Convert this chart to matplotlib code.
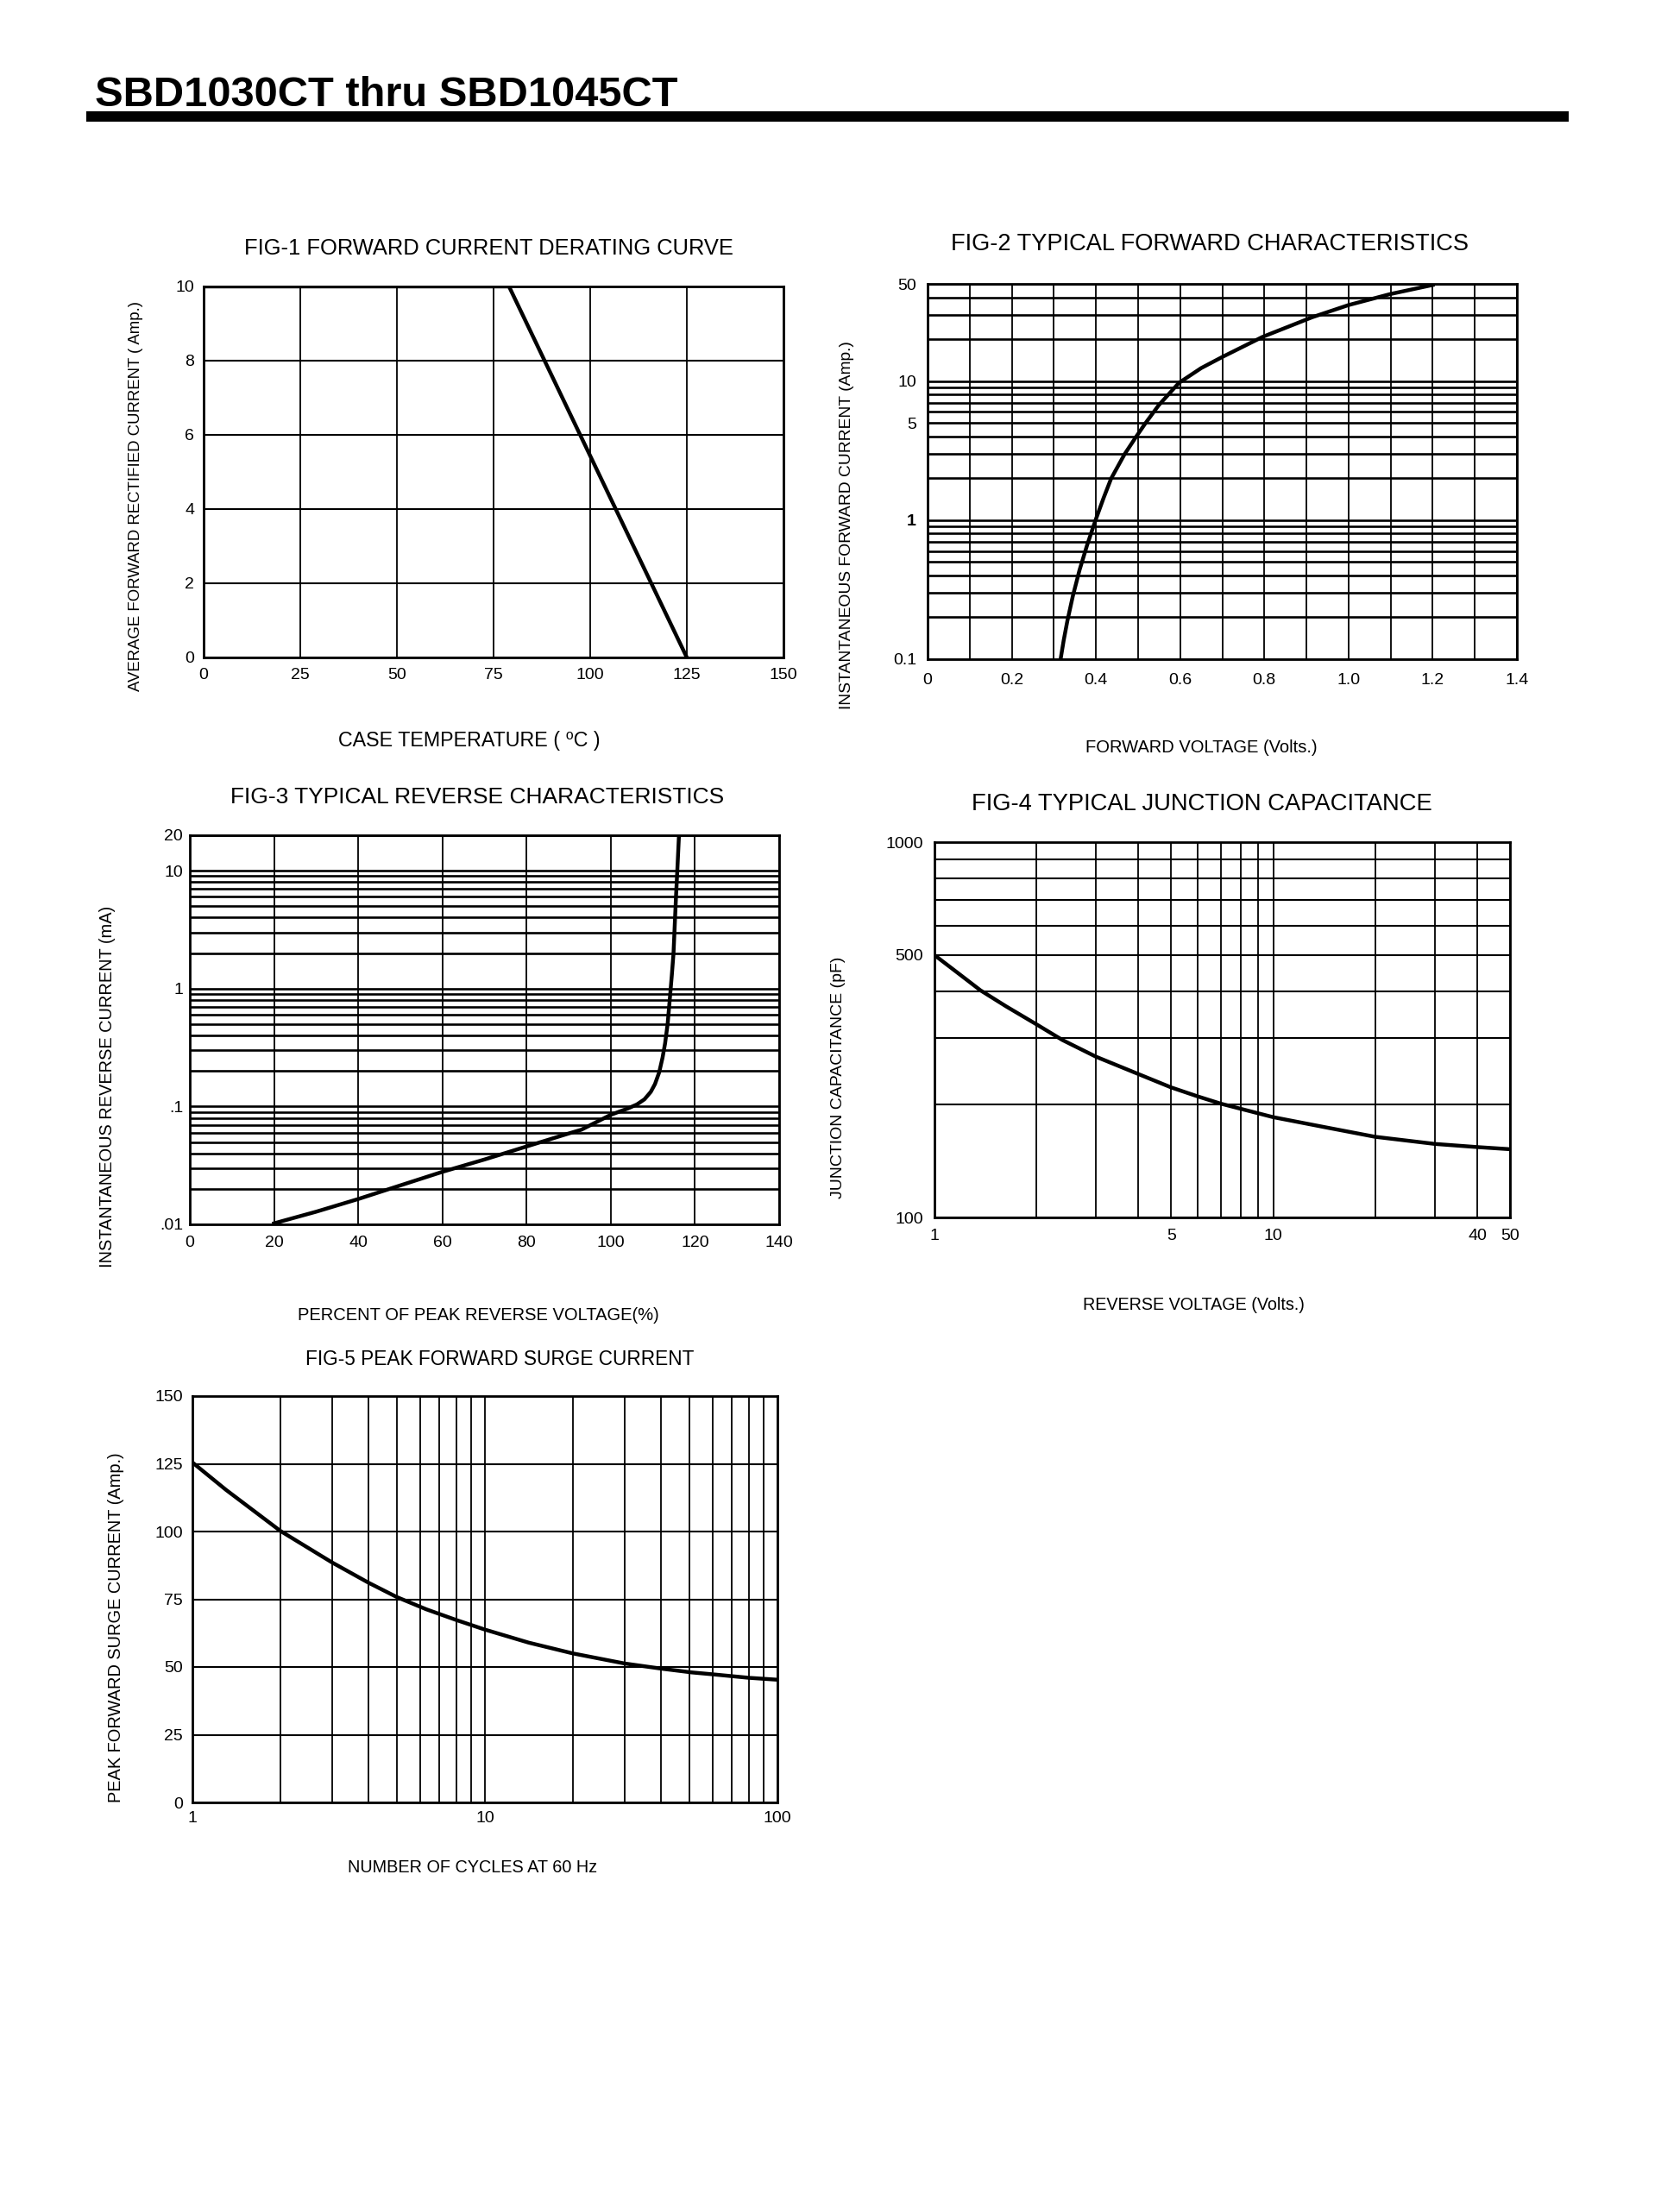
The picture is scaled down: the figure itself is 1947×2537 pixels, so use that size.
import matplotlib
matplotlib.use('Agg')
import matplotlib.pyplot as plt
from matplotlib import font_manager as fm
from matplotlib.patches import Rectangle
from matplotlib.ticker import NullFormatter

W, H = 1947, 2537
names = {f.name for f in fm.fontManager.ttflist}
NARROW = 'Liberation Sans Narrow' in names
FAM = 'Liberation Sans Narrow' if NARROW else 'Liberation Sans'
plt.rcParams['font.family'] = [FAM, 'DejaVu Sans']
TICK = 15.5 if NARROW else 14

# ---------------- data ----------------
# FIG-1 derating
f1_temp = [0, 79, 125]
f1_curr = [10, 10, 0]
f1_xticks = [0, 25, 50, 75, 100, 125, 150]
f1_yticks = [0, 2, 4, 6, 8, 10]

# FIG-2 forward characteristics
f2_volt = [0.316, 0.3234, 0.332, 0.345, 0.361, 0.379, 0.399, 0.418, 0.436, 0.468,
           0.495, 0.517, 0.549, 0.597, 0.65, 0.70, 0.796, 0.914, 1.0, 1.10, 1.20]
f2_curr = [0.1, 0.137, 0.188, 0.284, 0.438, 0.662, 1.0, 1.44, 1.99, 2.98,
           3.96, 4.95, 6.7, 9.7, 12.4, 14.9, 20.8, 28.8, 35.2, 42.3, 49.1]
f2_xticks = [0, 0.2, 0.4, 0.6, 0.8, 1.0, 1.2, 1.4]
f2_xlabels = ['0', '0.2', '0.4', '0.6', '0.8', '1.0', '1.2', '1.4']
f2_xminor = [0.1, 0.3, 0.5, 0.7, 0.9, 1.1, 1.3]
f2_yticks = [0.1, 1, 5, 10, 50]
f2_ylabels = ['0.1', '1', '5', '10', '50']
f2_yminor = [0.2, 0.3, 0.4, 0.5, 0.6, 0.7, 0.8, 0.9, 2, 3, 4, 6, 7, 8, 9, 20, 30, 40]

# FIG-3 reverse characteristics
f3_pct = [20, 30, 40, 50, 60, 70, 80, 90, 93, 100, 104, 106.2, 108, 109.5, 110.5,
          111.5, 112.3, 112.9, 113.5, 114, 114.5, 114.9, 115.2, 115.5, 115.8, 116.2]
f3_curr = [0.0102, 0.0128, 0.0164, 0.0214, 0.0279, 0.0355, 0.0458, 0.0590, 0.0635, 0.085,
           0.096, 0.104, 0.115, 0.133, 0.155, 0.195, 0.26, 0.343, 0.5, 0.8, 1.3, 1.99,
           3.5, 6.1, 10, 20]
f3_xticks = [0, 20, 40, 60, 80, 100, 120, 140]
f3_yticks = [0.01, 0.1, 1, 10, 20]
f3_ylabels = ['.01', '.1', '1', '10', '20']
f3_yminor = [0.02, 0.03, 0.04, 0.05, 0.06, 0.07, 0.08, 0.09,
             0.2, 0.3, 0.4, 0.5, 0.6, 0.7, 0.8, 0.9,
             2, 3, 4, 5, 6, 7, 8, 9]

# FIG-4 junction capacitance
f4_volt = [1, 1.184, 1.366, 1.628, 2, 2.386, 3, 4, 5, 6, 7, 10, 14.2, 20, 30, 40, 50]
f4_cap = [500, 445, 403, 365, 327, 297, 268, 241, 222, 210, 201, 185, 174, 164, 157, 154, 152]
f4_xticks = [1, 5, 10, 40, 50]
f4_xlabels = ['1', '5', '10', '40', '50']
f4_xminor = [2, 3, 4, 6, 7, 8, 9, 20, 30]
f4_yticks = [100, 500, 1000]
f4_ylabels = ['100', '500', '1000']
f4_yminor = [200, 300, 400, 600, 700, 800, 900]

# FIG-5 surge current
f5_cycles = [1, 1.302, 2, 2.71, 3, 4, 5, 6.3, 8, 10, 14.1, 20, 30, 40, 50.9, 60, 80, 100]
f5_amp = [125.5, 115.4, 100.2, 91.5, 88.6, 81.1, 75.8, 71.3, 67.3, 63.8, 59.0, 55.0,
          51.3, 49.4, 48.0, 47.3, 46.0, 45.3]
f5_xticks = [1, 10, 100]
f5_xlabels = ['1', '10', '100']
f5_xminor = [2, 3, 4, 5, 6, 7, 8, 9, 20, 30, 40, 50, 60, 70, 80, 90]
f5_yticks = [0, 25, 50, 75, 100, 125, 150]

# ---------------- figure ----------------
fig = plt.figure(figsize=(W / 100, H / 100), dpi=100)
fig.patch.set_facecolor('white')
renderer = fig.canvas.get_renderer()


def px_rect(l, t, r, b):
    return [l / W, 1 - b / H, (r - l) / W, (b - t) / H]


def fit_text(xpx, ypx, s, target, rotation=0, **kw):
    t = fig.text(xpx / W, 1 - ypx / H, s, fontsize=20, rotation=rotation,
                 ha=kw.pop('ha', 'center'), va=kw.pop('va', 'center'), **kw)
    bb = t.get_window_extent(renderer)
    cur = bb.height if rotation else bb.width
    t.set_fontsize(20 * target / cur)
    return t


def style(ax, xpad, ypad, hlw=1.5, vlw=1.3):
    ax.tick_params(which='both', length=0, labelsize=TICK, colors='black')
    ax.tick_params(axis='x', pad=xpad / 1.389)
    ax.tick_params(axis='y', pad=ypad / 1.389)
    for sp in ax.spines.values():
        sp.set_linewidth(2.0)
        sp.set_color('black')
    ax.grid(axis='x', which='both', color='black', linewidth=vlw)
    ax.grid(axis='y', which='both', color='black', linewidth=hlw)
    ax.set_axisbelow(True)


LW = 3.2

# header
fit_text(110, 123, 'SBD1030CT thru SBD1045CT', 675, ha='left', va='baseline',
         fontweight='bold')
fig.patches.append(Rectangle((100 / W, 1 - 141 / H), 1718 / W, 12 / H,
                             transform=fig.transFigure, color='black', lw=0))

# FIG-1
ax1 = fig.add_axes(px_rect(236, 332, 908, 762))
ax1.plot(f1_temp, f1_curr, color='black', lw=LW, solid_capstyle='butt')
ax1.set_xlim(0, 150)
ax1.set_ylim(0, 10)
ax1.set_xticks(f1_xticks)
ax1.set_yticks(f1_yticks)
style(ax1, 12, 11)
fit_text(566, 288, 'FIG-1 FORWARD CURRENT DERATING CURVE', 565)
fit_text(544, 858, 'CASE TEMPERATURE ( \u2070C )', 304)
fit_text(157, 575, 'AVERAGE FORWARD RECTIFIED CURRENT ( Amp.)', 453, rotation=90)

# FIG-2
ax2 = fig.add_axes(px_rect(1075, 329, 1758, 764))
ax2.plot(f2_volt, f2_curr, color='black', lw=LW)
ax2.set_yscale('log')
ax2.set_xlim(0, 1.4)
ax2.set_ylim(0.1, 50)
ax2.set_xticks(f2_xticks, f2_xlabels)
ax2.set_xticks(f2_xminor, minor=True)
ax2.set_yticks(f2_yticks, f2_ylabels)
ax2.set_yticks(f2_yminor, minor=True)
ax2.yaxis.set_minor_formatter(NullFormatter())
style(ax2, 16, 13, hlw=1.9)
ax2.get_yticklabels()[1].set_fontweight('bold')
fit_text(1402, 283, 'FIG-2 TYPICAL FORWARD CHARACTERISTICS', 600)
fit_text(1392, 867, 'FORWARD VOLTAGE (Volts.)', 269)
fit_text(982, 609, 'INSTANTANEOUS FORWARD CURRENT (Amp.)', 426, rotation=90)

# FIG-3
ax3 = fig.add_axes(px_rect(220, 968, 903, 1419))
ax3.plot(f3_pct, f3_curr, color='black', lw=LW)
ax3.set_yscale('log')
ax3.set_xlim(0, 140)
ax3.set_ylim(0.01, 20)
ax3.set_xticks(f3_xticks)
ax3.set_yticks(f3_yticks, f3_ylabels)
ax3.set_yticks(f3_yminor, minor=True)
ax3.yaxis.set_minor_formatter(NullFormatter())
style(ax3, 13, 8, hlw=1.9)
fit_text(553, 924, 'FIG-3 TYPICAL REVERSE CHARACTERISTICS', 573)
fit_text(554, 1525, 'PERCENT OF PEAK REVERSE VOLTAGE(%)', 419)
fit_text(125, 1259, 'INSTANTANEOUS REVERSE CURRENT (mA)', 420, rotation=90)

# FIG-4
ax4 = fig.add_axes(px_rect(1083, 976, 1750, 1411))
ax4.plot(f4_volt, f4_cap, color='black', lw=LW)
ax4.set_xscale('log')
ax4.set_yscale('log')
ax4.set_xlim(1, 50)
ax4.set_ylim(100, 1000)
ax4.set_xticks(f4_xticks, f4_xlabels)
ax4.set_xticks(f4_xminor, minor=True)
ax4.set_yticks(f4_yticks, f4_ylabels)
ax4.set_yticks(f4_yminor, minor=True)
ax4.xaxis.set_minor_formatter(NullFormatter())
ax4.yaxis.set_minor_formatter(NullFormatter())
style(ax4, 13, 13)
fit_text(1393, 932, 'FIG-4 TYPICAL JUNCTION CAPACITANCE', 534)
fit_text(1383, 1512, 'REVERSE VOLTAGE (Volts.)', 257)
fit_text(971, 1249, 'JUNCTION CAPACITANCE (pF)', 280, rotation=90)

# FIG-5
ax5 = fig.add_axes(px_rect(223, 1618, 901, 2089))
ax5.plot(f5_cycles, f5_amp, color='black', lw=LW)
ax5.set_xscale('log')
ax5.set_xlim(1, 100)
ax5.set_ylim(0, 150)
ax5.set_xticks(f5_xticks, f5_xlabels)
ax5.set_xticks(f5_xminor, minor=True)
ax5.xaxis.set_minor_formatter(NullFormatter())
ax5.set_yticks(f5_yticks)
style(ax5, 10, 11)
fit_text(579, 1575, 'FIG-5 PEAK FORWARD SURGE CURRENT', 450)
fit_text(548, 2164, 'NUMBER OF CYCLES AT 60 Hz', 290)
fit_text(134, 1886, 'PEAK FORWARD SURGE CURRENT (Amp.)', 405, rotation=90)

fig.savefig('out.png', dpi=100, facecolor='white')
